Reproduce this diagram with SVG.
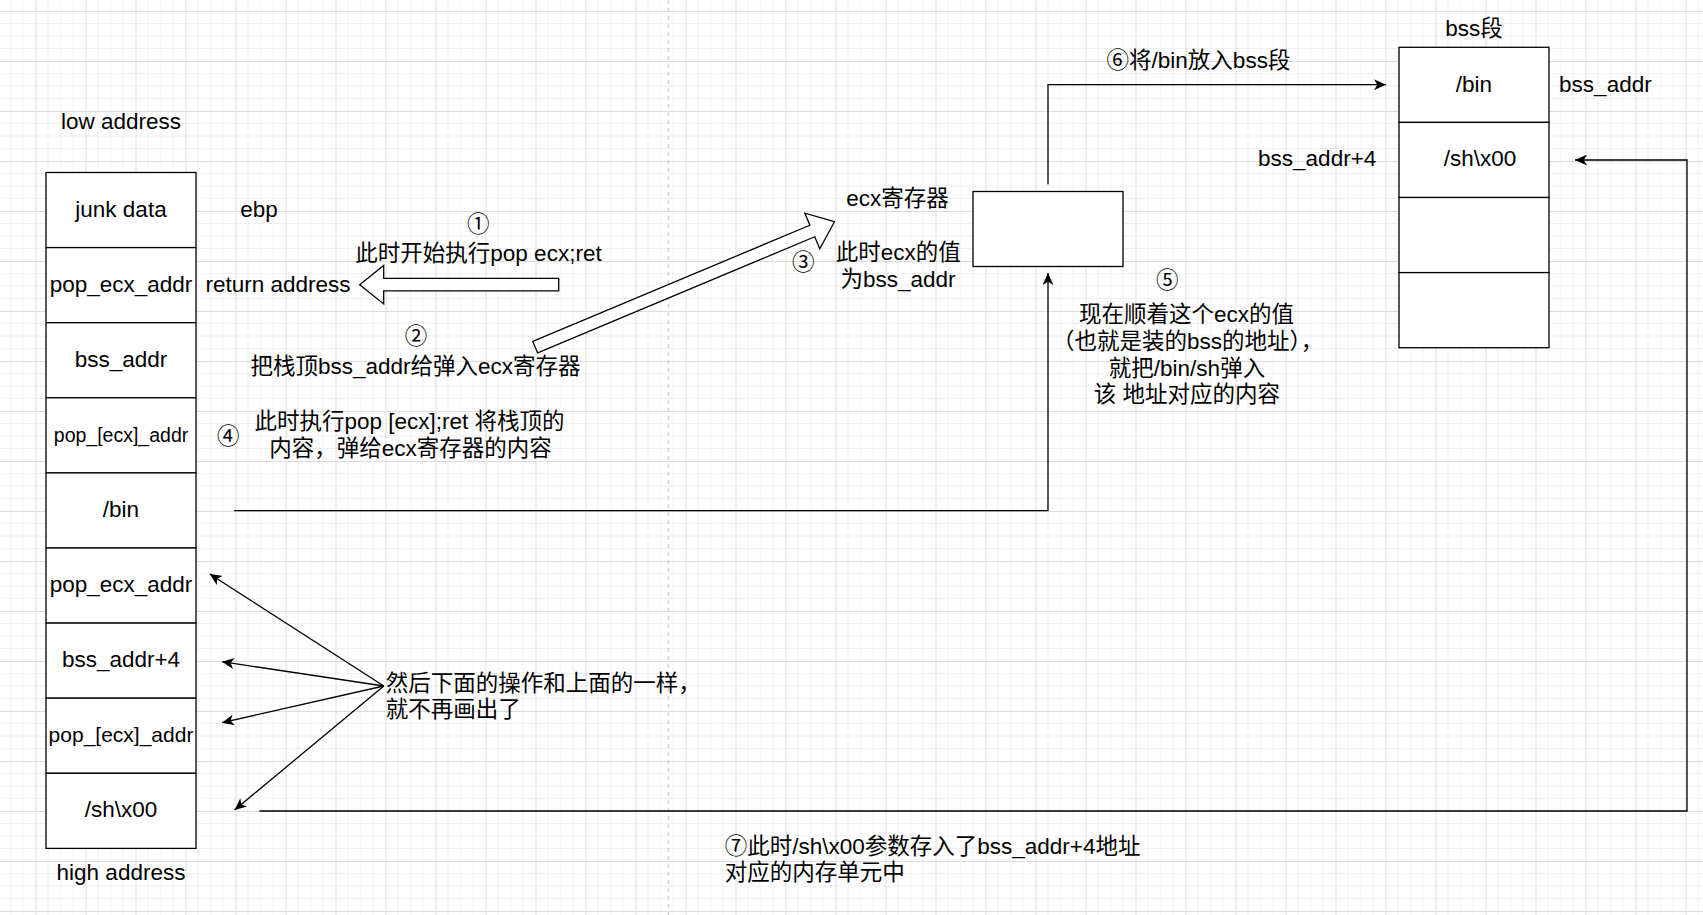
<svg xmlns="http://www.w3.org/2000/svg" width="1703" height="915" viewBox="0 0 1703 915">
<style>
.t{font-family:"Liberation Sans","Noto Sans CJK SC",sans-serif;font-size:22.5px;fill:#000;text-anchor:middle;dominant-baseline:central}
.l{text-anchor:start}
.box{fill:#fff;stroke:#000;stroke-width:1.3}
.c{fill:none;stroke:#000;stroke-width:1.3}
.flex{fill:#fff;stroke:#000;stroke-width:1.3;stroke-linejoin:miter}
</style>
<defs>
<pattern id="grid" x="35.5" y="11" width="50" height="50" patternUnits="userSpaceOnUse">
<path d="M12.5,0V50M25,0V50M37.5,0V50M0,12.5H50M0,25H50M0,37.5H50" stroke="#f0f0f0" stroke-width="1" fill="none"/>
<path d="M0.5,0V50M0,0.5H50" stroke="#dcdcdc" stroke-width="1" fill="none"/>
</pattern>
<marker id="arr" markerUnits="userSpaceOnUse" markerWidth="12" markerHeight="11" viewBox="0 0 11 10" refX="11" refY="5" orient="auto">
<path d="M0,0 L11,5 L0,10 L3,5 z" fill="#000"/>
</marker>
</defs>
<rect width="1703" height="915" fill="#fff"/>
<rect width="1703" height="915" fill="url(#grid)"/>
<line x1="668.3" y1="0" x2="668.3" y2="915" stroke="#c4c4c4" stroke-width="1" stroke-dasharray="4 4"/>

<g id="stack">
<g id="s1"><rect class="box" x="46" y="172.5" width="150" height="75.1"/><text class="t" x="121" y="209">junk data</text></g>
<g id="s2"><rect class="box" x="46" y="247.6" width="150" height="75.1"/><text class="t" x="121" y="284.2">pop_ecx_addr</text></g>
<g id="s3"><rect class="box" x="46" y="322.7" width="150" height="75.1"/><text class="t" x="121" y="359.3">bss_addr</text></g>
<g id="s4"><rect class="box" x="46" y="397.8" width="150" height="75.1"/><text class="t" x="121" y="434.6" style="font-size:19.5px">pop_[ecx]_addr</text></g>
<g id="s5"><rect class="box" x="46" y="472.9" width="150" height="75.1"/><text class="t" x="121" y="509.5">/bin</text></g>
<g id="s6"><rect class="box" x="46" y="548" width="150" height="75.1"/><text class="t" x="121" y="584.6">pop_ecx_addr</text></g>
<g id="s7"><rect class="box" x="46" y="623.1" width="150" height="75.1"/><text class="t" x="121" y="659.7">bss_addr+4</text></g>
<g id="s8"><rect class="box" x="46" y="698.2" width="150" height="75.1"/><text class="t" x="121" y="734.8" style="font-size:21px">pop_[ecx]_addr</text></g>
<g id="s9"><rect class="box" x="46" y="773.3" width="150" height="75.1"/><text class="t" x="121" y="809.9">/sh\x00</text></g>
</g>

<g id="ecx-box"><rect class="box" x="973" y="191.5" width="150" height="75"/></g>

<g id="bss">
<g id="b1"><rect class="box" x="1399" y="47.3" width="150" height="75.1"/><text class="t" x="1474" y="84">/bin</text></g>
<g id="b2"><rect class="box" x="1399" y="122.4" width="150" height="75.1"/><text class="t" x="1480" y="158.5">/sh\x00</text></g>
<g id="b3"><rect class="box" x="1399" y="197.5" width="150" height="75.1"/></g>
<g id="b4"><rect class="box" x="1399" y="272.6" width="150" height="75.1"/></g>
</g>

<g id="connectors">
<polygon class="flex" points="0,-6.25 175,-6.25 175,-19.3 199,0 175,19.3 175,6.25 0,6.25" transform="translate(558.7,284.7) rotate(180)"/>
<polygon class="flex" points="0,-6.25 300.5,-6.25 300.5,-19.3 324.5,0 300.5,19.3 300.5,6.25 0,6.25" transform="translate(535.2,347.2) rotate(-22.75)"/>
<path class="c" d="M234,510.7 H1048 V273" marker-end="url(#arr)"/>
<path class="c" d="M1048,184.3 V84.7 H1386" marker-end="url(#arr)"/>
<path class="c" d="M259.5,811 H1687 V160 H1575" marker-end="url(#arr)"/>
<path class="c" d="M383.8,686 L209.7,574" marker-end="url(#arr)"/>
<path class="c" d="M383.8,686 L222,661.7" marker-end="url(#arr)"/>
<path class="c" d="M383.8,686 L222,722.7" marker-end="url(#arr)"/>
<path class="c" d="M383.8,686 L234.6,810" marker-end="url(#arr)"/>
</g>

<g id="labels">
<text class="t" x="121" y="121">low address</text>
<text class="t" x="121" y="872">high address</text>
<text class="t" x="259" y="209">ebp</text>
<text class="t" x="278" y="284.5">return address</text>
<text class="t" x="478.3" y="224">①</text>
<text class="t" x="478.5" y="253">此时开始执行pop ecx;ret</text>
<text class="t" x="416" y="336.7">②</text>
<text class="t" x="415.6" y="366">把栈顶bss_addr给弹入ecx寄存器</text>
<text class="t" x="228.3" y="436.7">④</text>
<text class="t" x="409.5" y="421.7">此时执行pop [ecx];ret 将栈顶的</text>
<text class="t" x="410.4" y="448">内容，弹给ecx寄存器的内容</text>
<text class="t" x="897.6" y="198.3">ecx寄存器</text>
<text class="t" x="803.3" y="262.3">③</text>
<text class="t" x="898.2" y="252.7">此时ecx的值</text>
<text class="t" x="898" y="279.3">为bss_addr</text>
<text class="t" x="1167.3" y="280">⑤</text>
<text class="t" x="1186.5" y="314.3">现在顺着这个ecx的值</text>
<text class="t" x="1187.6" y="341.7">（也就是装的bss的地址），</text>
<text class="t" x="1187" y="368.3">就把/bin/sh弹入</text>
<text class="t" x="1187" y="394.3">该 地址对应的内容</text>
<text class="t" x="1198.5" y="60">⑥将/bin放入bss段</text>
<text class="t" x="1474" y="28.3">bss段</text>
<text class="t" x="1605.4" y="84">bss_addr</text>
<text class="t" x="1317.2" y="158">bss_addr+4</text>
<text class="t l" x="385.8" y="683.3">然后下面的操作和上面的一样，</text>
<text class="t l" x="385.8" y="709.3">就不再画出了</text>
<text class="t l" x="724.7" y="846.7">⑦此时/sh\x00参数存入了bss_addr+4地址</text>
<text class="t l" x="724.7" y="872.3">对应的内存单元中</text>
</g>
</svg>
